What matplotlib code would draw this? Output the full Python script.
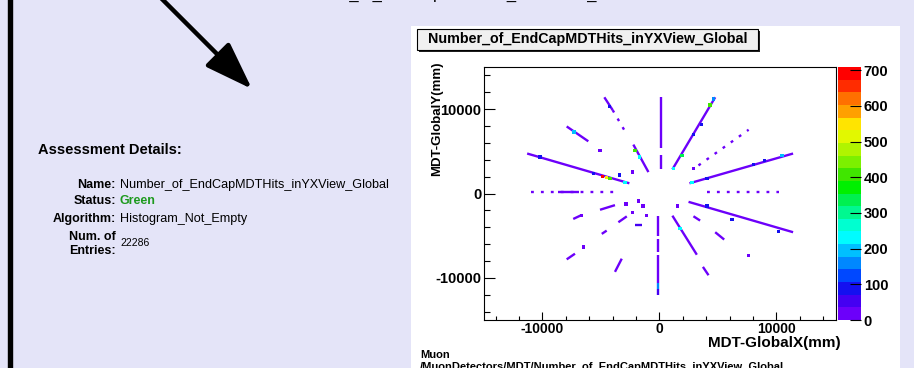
import matplotlib
matplotlib.use("Agg")
import matplotlib.pyplot as plt
from matplotlib.collections import LineCollection
from matplotlib.colors import ListedColormap, Normalize
from matplotlib.cm import ScalarMappable
from matplotlib.patches import Rectangle
from matplotlib.ticker import MultipleLocator, FixedLocator, FormatStrFormatter

plt.rcParams['font.family'] = ['Liberation Sans', 'DejaVu Sans']

# Texte du panneau de gauche
hist_name = "Number_of_EndCapMDTHits_inYXView_Global"
status = "Green"
algorithm = "Histogram_Not_Empty"
n_entries = "22286"
hist_path = "/MuonDetectors/MDT/Number_of_EndCapMDTHits_inYXView_Global"

# Palette ROOT (20 niveaux, du bas vers le haut)
palette = ["#6c00fa", "#4400f2", "#1410f0", "#0048ff", "#0088ff",
           "#00c0ff", "#00fcff", "#00ffd0", "#00f890", "#00f050",
           "#00f000", "#40e600", "#7cf000", "#b0f400", "#e2f800",
           "#ffe400", "#ffa000", "#ff7000", "#ff2c00", "#ff0000"]
z_max = 709
cbar_ticks = [0, 100, 200, 300, 400, 500, 600, 700]

# Branches denses (x0, y0, x1, y1 en mm, contenu)
seg_x0 = [100, 100, -90, -90, -90, -90, -90, 1110, -2230, -4710, -11310, -7930,
          2570, 2490, -8700, 1110, 3720, 2910, 4770, -2080, -3800,
          -5080, -7370, -3510, -7930, -4930]
seg_y0 = [11400, 4620, -2630, -5370, -7340, -10670, -11340, 2860, 5800, 11410, 4740, 7950,
          1210, -990, 190, -2630, -8700, -2700, -4590, -3730, -9290,
          -1930, -3020, -3410, -7810, -4790]
seg_x1 = [100, 100, -90, -90, -90, -90, -90, 4770, -940, -4000, -2570, -6080,
          11430, 11430, -6900, 3200, 4200, 3480, 5540, -1510, -3220,
          -3800, -6650, -2790, -7220, -4510]
seg_y1 = [5410, 2860, -4990, -6940, -10670, -11340, -12050, 11410, 2540, 9900, 1210, 6190,
          4740, -4590, 190, -7260, -9690, -3210, -5460, -3730, -7730,
          -1380, -2550, -2710, -7140, -4400]
seg_val = [20, 20, 20, 20, 20, 150, 50, 30, 25, 30, 25, 15,
           25, 25, 30, 20, 20, 25, 20, 45, 20,
           15, 15, 15, 15, 15]

# Branches clairsemées
sparse_x0 = [-4000, 3340, -10940, 4060]
sparse_y0 = [9900, 3330, 190, 190]
sparse_x1 = [-3020, 7630, -3650, 10200]
sparse_y1 = [7560, 7560, 190, 190]
sparse_val = [15, 15, 15, 15]

# Cellules isolées et points chauds
cell_x = [1200, 1920, 4340, 4630, 2900, -2080, -1710, -4280, -4850, -4550, -4220,
          -2940, -10220, -5660, -7310, 2780, 10490, 4060, 8050, 4060, 10200,
          1770, -2850, -1800, -1420, -1080, -2280, -6510, -5080, -2280, 1540,
          2910, 7630, -6650, 3600, -3400, 9000, 6200]
cell_y = [2940, 4500, 10500, 11210, 7000, 5130, 4350, 10300, 2000, 1900, 1760,
          1290, 4350, 2390, 7290, 1290, 4500, 1760, 3450, -1460, -4510,
          -4120, -1260, -870, -1460, -2630, -2240, -6350, 5130, 2540, -1460,
          2980, -7340, -2630, 8200, 2200, 3900, -3100]
cell_val = [230, 330, 400, 150, 90, 400, 220, 100, 680, 560, 420,
            220, 90, 100, 200, 230, 200, 90, 90, 90, 80,
            220, 15, 15, 30, 15, 15, 15, 15, 15, 15,
            15, 15, 15, 90, 90, 80, 80]

cmap = ListedColormap(palette)
norm = Normalize(0, z_max)

W, H = 914, 368
fig = plt.figure(figsize=(W / 100, H / 100), dpi=100)
fig.patch.set_facecolor("#e4e4f8")

# Calque en pixels pour la page
bg = fig.add_axes([0, 0, 1, 1])
bg.set_xlim(0, W)
bg.set_ylim(H, 0)
bg.axis("off")
bg.add_patch(Rectangle((8, -5), 3.5, H + 10, color="black"))
bg.add_patch(Rectangle((411, 26), 489, H, facecolor="white", edgecolor="none"))
bg.annotate("", xy=(252, 89), xytext=(161, -2),
            arrowprops=dict(arrowstyle="-|>,head_length=0.4,head_width=0.14",
                            mutation_scale=74, lw=3.2, color="black",
                            shrinkA=0, shrinkB=0))
bg.text(291, -1.5, hist_name, fontsize=12, va="baseline", ha="left")

bg.text(38, 150, "Assessment Details:", fontsize=10.5, fontweight="bold", va="center")
lab_kw = dict(fontsize=9, fontweight="bold", ha="right", va="center")
val_kw = dict(fontsize=9.1, ha="left", va="center")
bg.text(116, 185, "Name:", **lab_kw)
bg.text(120, 185, hist_name, **val_kw)
bg.text(116, 201.5, "Status:", **lab_kw)
bg.text(120, 201.5, status, color="#1e9a1e", fontweight="bold", fontsize=9, va="center")
bg.text(116, 219, "Algorithm:", **lab_kw)
bg.text(120, 219, algorithm, **val_kw)
bg.text(116, 236.5, "Num. of", **lab_kw)
bg.text(116, 250.5, "Entries:", **lab_kw)
bg.text(120, 243, n_entries, fontsize=7.5, va="center")

# Boîte de titre ROOT
bg.add_patch(Rectangle((419, 31), 341, 21, facecolor="#202020", edgecolor="none"))
bg.add_patch(Rectangle((417, 29), 341, 21, facecolor="#f0f0f0", edgecolor="black", lw=0.8))
bg.text(587.5, 39.5, hist_name, fontsize=10.3, fontweight="bold", ha="center", va="center")

bg.text(437, 62, "MDT-GlobalY(mm)", fontsize=9.5, fontweight="bold",
        rotation=90, ha="center", va="top")
bg.text(841, 347, "MDT-GlobalX(mm)", fontsize=11, fontweight="bold",
        ha="right", va="baseline")
bg.text(420, 355, "Muon", fontsize=8, fontweight="bold", va="center")
bg.text(420, 366.5, hist_path, fontsize=8, fontweight="bold", va="center")

# Histogramme 2D
ax = fig.add_axes([484 / W, (H - 320) / H, 352 / W, 253 / H])
ax.set_facecolor("white")
segs = [[(a, b), (c, d)] for a, b, c, d in zip(seg_x0, seg_y0, seg_x1, seg_y1)]
ax.add_collection(LineCollection(segs, colors=cmap(norm(seg_val)), linewidths=1.7,
                                 capstyle="butt"))
segs2 = [[(a, b), (c, d)] for a, b, c, d in zip(sparse_x0, sparse_y0, sparse_x1, sparse_y1)]
ax.add_collection(LineCollection(segs2, colors=cmap(norm(sparse_val)), linewidths=1.7,
                                 linestyles=[(0, (1.2, 3))], capstyle="butt"))
ax.scatter(cell_x, cell_y, c=cell_val, cmap=cmap, norm=norm, marker="s", s=6,
           linewidths=0, zorder=3)

ax.set_xlim(-15000, 15100)
ax.set_ylim(-15000, 15000)
ax.xaxis.set_major_locator(FixedLocator([-10000, 0, 10000]))
ax.yaxis.set_major_locator(FixedLocator([-10000, 0, 10000]))
ax.xaxis.set_minor_locator(MultipleLocator(2000))
ax.yaxis.set_minor_locator(MultipleLocator(2000))
ax.xaxis.set_major_formatter(FormatStrFormatter("%d"))
ax.yaxis.set_major_formatter(FormatStrFormatter("%d"))
ax.tick_params(axis="x", which="major", direction="in", length=6, width=0.8,
               labelsize=10, pad=1.5)
ax.tick_params(axis="x", which="minor", direction="in", length=3, width=0.8)
ax.tick_params(axis="y", which="major", direction="in", length=8, width=0.8,
               labelsize=10.5, pad=2)
ax.tick_params(axis="y", which="minor", direction="in", length=4, width=0.8)
for lbl in ax.get_xticklabels() + ax.get_yticklabels():
    lbl.set_fontweight("bold")
for s in ax.spines.values():
    s.set_linewidth(0.8)

# Palette de couleurs
cax = fig.add_axes([838 / W, (H - 320) / H, 23 / W, 253 / H])
cb = fig.colorbar(ScalarMappable(norm=norm, cmap=cmap), cax=cax)
cb.set_ticks(cbar_ticks)
cb.outline.set_visible(False)
cax.tick_params(direction="in", length=8, width=0.8, labelsize=10.5, pad=2)
for lbl in cax.get_yticklabels():
    lbl.set_fontweight("bold")

fig.savefig("out.png", dpi=100, facecolor=fig.get_facecolor())
